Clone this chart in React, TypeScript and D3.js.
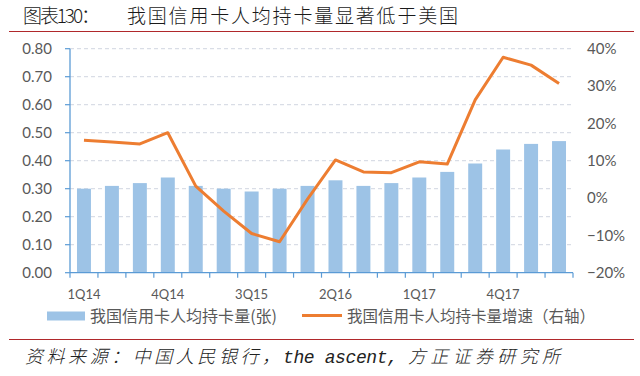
import React from "react";
import * as d3 from "d3";

const categories = ["1Q14","2Q14","3Q14","4Q14","1Q15","2Q15","3Q15","4Q15","1Q16","2Q16","3Q16","4Q16","1Q17","2Q17","3Q17","4Q17","1Q18","2Q18"];
const cardsPerCapita = [0.30,0.31,0.32,0.34,0.31,0.30,0.29,0.30,0.31,0.33,0.31,0.32,0.34,0.36,0.39,0.44,0.46,0.47];
const growthRate = [0.155,0.15,0.145,0.175,0.032,-0.035,-0.095,-0.117,-0.003,0.102,0.07,0.068,0.097,0.091,0.263,0.377,0.356,0.307];
const leftTicks = [0,0.1,0.2,0.3,0.4,0.5,0.6,0.7,0.8];
const rightTicks = [-0.2,-0.1,0,0.1,0.2,0.3,0.4];
const titleLabel = "图表130：";
const titleText = "我国信用卡人均持卡量显著低于美国";
const barLegend = "我国信用卡人均持卡量(张)";
const lineLegend = "我国信用卡人均持卡量增速（右轴）";
const sourceA = "资料来源：中国人民银行，";
const sourceB = "the ascent,";
const sourceC = "方正证券研究所";

export default function App() {
  const W = 640, H = 376;
  const left = 70, right = 573, top = 48.7, bottom = 272.7;
  const x = d3.scaleBand().domain(categories).range([left, right]).paddingInner(0.5).paddingOuter(0.25);
  const xc = (c: string) => (x(c) as number) + x.bandwidth() / 2;
  const step = (right - left) / categories.length;
  const yL = d3.scaleLinear().domain([0, 0.8]).range([bottom, top]);
  const yR = d3.scaleLinear().domain([-0.2, 0.4]).range([bottom, top]);
  const line = d3.line<number>().x((_, i) => xc(categories[i])).y((d) => yR(d));
  const tickFont = "Lato, 'Open Sans', sans-serif";
  const cjk = "'Noto Sans CJK SC', sans-serif";
  return (
    <svg width={W} height={H} style={{ position: "absolute", left: 0, top: 0, background: "#fff" }}>
      <text x={23} y={23} fontFamily={cjk} fontWeight={300} fontSize={19} fill="#1a1a1a" textLength={77} lengthAdjust="spacing">{titleLabel}</text>
      <text x={127} y={23} fontFamily={cjk} fontWeight={300} fontSize={19} fill="#1a1a1a" textLength={331} lengthAdjust="spacing">{titleText}</text>
      <line x1={9} x2={634} y1={31.5} y2={31.5} stroke="#B0282B" strokeWidth={1.2} />
      {leftTicks.slice(1).map((t) => (
        <line key={t} x1={left} x2={right} y1={yL(t)} y2={yL(t)} stroke="#D0D6E0" strokeDasharray="4,3" strokeWidth={1} />
      ))}
      {categories.map((c, i) => (
        <rect key={c} x={x(c)} y={yL(cardsPerCapita[i])} width={x.bandwidth()} height={bottom - yL(cardsPerCapita[i])} fill="#9DC3E6" />
      ))}
      <line x1={left} x2={left} y1={top} y2={bottom} stroke="#5B9BD5" strokeWidth={1.3} />
      {leftTicks.map((t) => (
        <g key={t}>
          <line x1={left - 5} x2={left} y1={yL(t)} y2={yL(t)} stroke="#5B9BD5" strokeWidth={1.2} />
          <text x={52} y={yL(t)} dy="0.35em" textAnchor="end" fontFamily={tickFont} fontSize={15} fill="#595959">{t.toFixed(2)}</text>
        </g>
      ))}
      {rightTicks.map((t) => (
        <text key={t} x={587} y={yR(t)} dy="0.35em" textAnchor="start" fontFamily={tickFont} fontSize={15} fill="#595959">{d3.format(".0%")(t)}</text>
      ))}
      <line x1={left} x2={right} y1={bottom} y2={bottom} stroke="#5B9BD5" strokeWidth={1.3} />
      {d3.range(categories.length + 1).map((i) => (
        <line key={i} x1={left + i * step} x2={left + i * step} y1={bottom} y2={bottom + 5} stroke="#5B9BD5" strokeWidth={1.2} />
      ))}
      {categories.map((c, i) => i % 3 === 0 ? (
        <text key={c} x={xc(c)} y={294} dy="0.35em" textAnchor="middle" fontFamily={tickFont} fontSize={13} fill="#595959">{c}</text>
      ) : null)}
      <path d={line(growthRate) as string} fill="none" stroke="#ED7D31" strokeWidth={3} strokeLinejoin="round" />
      <rect x={47} y={311.5} width={38} height={9} fill="#9DC3E6" />
      <text x={90} y={316} dy="0.35em" fontFamily={cjk} fontSize={16} fill="#595959" textLength={187} lengthAdjust="spacingAndGlyphs">{barLegend}</text>
      <line x1={302} x2={342} y1={315.5} y2={315.5} stroke="#ED7D31" strokeWidth={3} />
      <text x={347} y={316} dy="0.35em" fontFamily={cjk} fontSize={16} fill="#595959" textLength={248} lengthAdjust="spacingAndGlyphs">{lineLegend}</text>
      <line x1={9} x2={634} y1={339.5} y2={339.5} stroke="#B0282B" strokeWidth={1.2} />
      <text x={25} y={363} fontFamily={cjk} fontWeight={300} fontSize={18} fontStyle="italic" fill="#222" textLength={255} lengthAdjust="spacing">{sourceA}</text>
      <text x={283} y={363} fontFamily="'Liberation Mono', 'DejaVu Sans Mono', monospace" fontSize={18} fontStyle="italic" fill="#222" textLength={115} lengthAdjust="spacing">{sourceB}</text>
      <text x={408} y={363} fontFamily={cjk} fontWeight={300} fontSize={18} fontStyle="italic" fill="#222" textLength={152} lengthAdjust="spacing">{sourceC}</text>
    </svg>
  );
}
